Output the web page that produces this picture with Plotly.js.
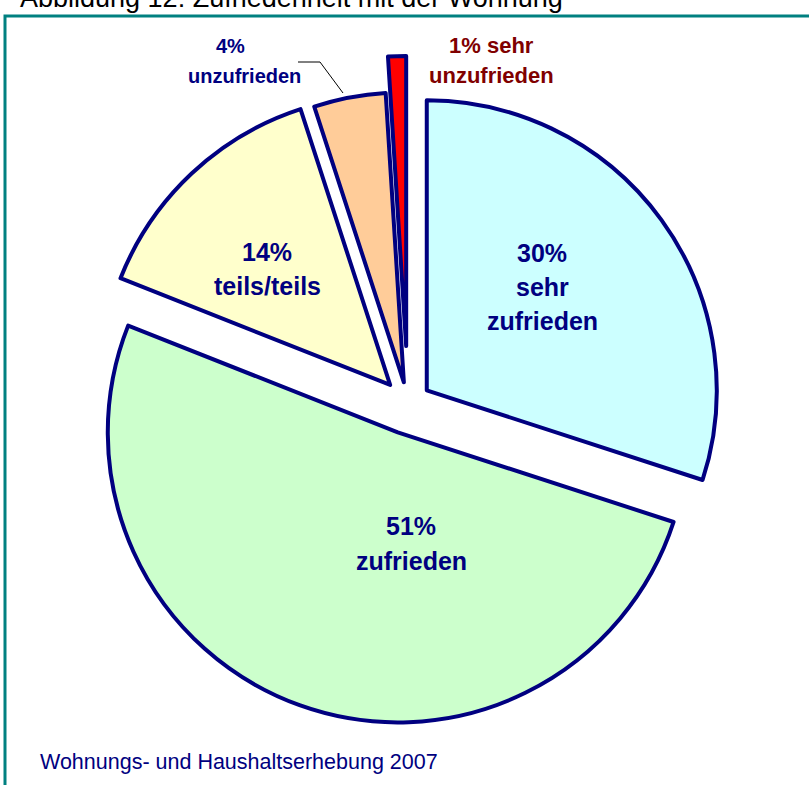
<!DOCTYPE html>
<html><head><meta charset="utf-8">
<script src="https://cdn.plot.ly/plotly-3.0.1.min.js"></script>
<style>html,body{margin:0;padding:0;background:#fff;overflow:hidden}</style>
</head><body><div id="chart" style="width:809px;height:785px"></div>
<script>
// ---- data ----
const categories = ['sehr zufrieden', 'zufrieden', 'teils/teils', 'unzufrieden', 'sehr unzufrieden'];
const values = [30, 51, 14, 4, 1];
const titleText = 'Abbildung 12: Zufriedenheit mit der Wohnung';
const sourceText = 'Wohnungs- und Haushaltserhebung 2007';

// ---- styles ----
const sliceColors = ['#CCFFFF', '#CCFFCC', '#FFFFCC', '#FFCC99', '#FF0000'];
const pulls = [0.08, 0.104, 0.09, 0.076, 0.2];
const labelColors = ['#000080', '#000080', '#000080', '#000080', '#800000'];
const labelSizes = [25, 25, 25, 20, 22];
// label line anchor positions in pixels (x, list of y)
const labelPos = [
  {x: 542, y: [253, 287, 321]},
  {x: 411, y: [526, 561]},
  {x: 267, y: [252, 286]},
  [{x: 230, y: 46}, {x: 244, y: 76}],
  {x: 491, y: [46, 76]}
];

const W = 809, H = 785;
const px = v => v / W;
const py = v => 1 - v / H;
const FONT = 'Liberation Sans, Arial, sans-serif';

const labelLines = categories.map((c, i) =>
  i === 4 ? [values[i] + '% sehr', 'unzufrieden'] : [values[i] + '%'].concat(c.split(' ')));

// pie geometry: center (408,404), r=290, max pull 0.2
const cx = 408, cy = 404, r = 290;
const half = r * (1 + Math.max(...pulls));

const annotations = [];
labelLines.forEach((lines, i) => {
  lines.forEach((t, j) => {
    const pos = Array.isArray(labelPos[i]) ? labelPos[i][j] : {x: labelPos[i].x, y: labelPos[i].y[j]};
    annotations.push({
      text: t, x: px(pos.x), y: py(pos.y), xref: 'paper', yref: 'paper',
      xanchor: 'center', yanchor: 'middle', showarrow: false,
      font: {family: FONT, size: labelSizes[i], color: labelColors[i], weight: 'bold'}
    });
  });
});
annotations.push({
  text: titleText, x: px(18), y: py(-2), xref: 'paper', yref: 'paper',
  xanchor: 'left', yanchor: 'middle', showarrow: false,
  font: {family: FONT, size: 27, color: '#000000'}
});
annotations.push({
  text: sourceText, x: px(38), y: py(762), xref: 'paper', yref: 'paper',
  xanchor: 'left', yanchor: 'middle', showarrow: false,
  font: {family: FONT, size: 21.5, color: '#000080'}
});

const shapes = [
  {type: 'rect', xref: 'paper', yref: 'paper', x0: px(5), x1: px(W + 10), y0: py(H + 10), y1: py(16),
   line: {color: '#008080', width: 3}, layer: 'below'},
  {type: 'path', xref: 'paper', yref: 'paper',
   path: 'M ' + px(298) + ' ' + py(62) + ' L ' + px(320) + ' ' + py(62) + ' L ' + px(343) + ' ' + py(93),
   line: {color: '#000000', width: 1}}
];

const trace = {
  type: 'pie',
  labels: categories,
  values: values,
  sort: false,
  direction: 'clockwise',
  rotation: 0,
  pull: pulls,
  marker: {colors: sliceColors, line: {color: '#000080', width: 4}},
  textinfo: 'none',
  hoverinfo: 'none',
  domain: {x: [px(cx - half), px(cx + half)], y: [py(cy + half), py(cy - half)]}
};

const layout = {
  width: W, height: H,
  margin: {l: 0, r: 0, t: 0, b: 0},
  showlegend: false,
  paper_bgcolor: '#ffffff',
  annotations: annotations,
  shapes: shapes
};

Plotly.newPlot('chart', [trace], layout, {displayModeBar: false, staticPlot: true});
</script></body></html>
